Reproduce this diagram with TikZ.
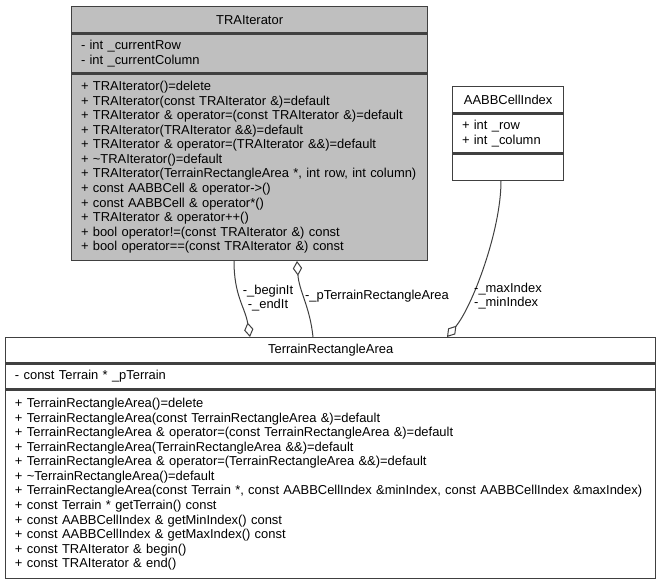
\documentclass[tikz,border=0pt]{standalone}
\usepackage{fontspec}
\setmainfont{Liberation Sans}
\usepackage{xcolor}
\usepackage{tikz}
\usetikzlibrary{positioning, arrows.meta}
\definecolor{umlgray}{HTML}{BFBFBF}
\definecolor{umledge}{HTML}{404040}

\begin{document}
\begin{tikzpicture}[x=0.75pt,y=-0.75pt,
    every node/.style={font=\fontsize{9.7}{10.9}\selectfont},
    umlbox/.style={draw=umledge,line width=1pt,inner xsep=7pt,inner ysep=2pt,align=left},
    assoc/.style={draw=umledge,line width=0.75pt,-{Diamond[open,length=11pt,width=7pt]}},
    lbl/.style={inner sep=0pt,align=center}]
        \useasboundingbox[fill=white] (0,0) rectangle (661,580);

        \node[umlbox,fill=umlgray,anchor=north west,minimum width=267pt,text width=253pt,minimum height=19.5pt,align=center] (itTitle) at (71,6) {TRAIterator};
        \node[umlbox,fill=umlgray,below=0pt of itTitle,minimum width=267pt,text width=253pt,minimum height=29.25pt] (itAttr)
          {- int \_currentRow\\- int \_currentColumn};
        \node[umlbox,fill=umlgray,below=0pt of itAttr,minimum width=267pt,text width=253pt,minimum height=139.5pt] (itOps)
          {+ TRAIterator()=delete\\
           + TRAIterator(const TRAIterator \&)=default\\
           + TRAIterator \& operator=(const TRAIterator \&)=default\\
           + TRAIterator(TRAIterator \&\&)=default\\
           + TRAIterator \& operator=(TRAIterator \&\&)=default\\
           + \textasciitilde TRAIterator()=default\\
           + TRAIterator(TerrainRectangleArea *, int row, int column)\\
           + const AABBCell \& operator->()\\
           + const AABBCell \& operator*()\\
           + TRAIterator \& operator++()\\
           + bool operator!=(const TRAIterator \&) const\\
           + bool operator==(const TRAIterator \&) const};

        \node[umlbox,anchor=north west,minimum width=83.25pt,text width=69.25pt,minimum height=19.5pt,align=center] (idxTitle) at (452,86) {AABBCellIndex};
        \node[umlbox,below=0pt of idxTitle,minimum width=83.25pt,text width=69.25pt,minimum height=29.25pt] (idxAttr)
          {+ int \_row\\+ int \_column};
        \node[umlbox,below=0pt of idxAttr,minimum width=83.25pt,text width=69.25pt,minimum height=19.5pt] (idxOps) {};

        \node[umlbox,anchor=north west,minimum width=487.5pt,text width=473.5pt,minimum height=18.75pt,align=center] (areaTitle) at (5,337) {TerrainRectangleArea};
        \node[umlbox,below=0pt of areaTitle,minimum width=487.5pt,text width=473.5pt,minimum height=18.75pt] (areaAttr)
          {- const Terrain * \_pTerrain};
        \node[umlbox,below=0pt of areaAttr,minimum width=487.5pt,text width=473.5pt,minimum height=141pt] (areaOps)
          {+ TerrainRectangleArea()=delete\\
           + TerrainRectangleArea(const TerrainRectangleArea \&)=default\\
           + TerrainRectangleArea \& operator=(const TerrainRectangleArea \&)=default\\
           + TerrainRectangleArea(TerrainRectangleArea \&\&)=default\\
           + TerrainRectangleArea \& operator=(TerrainRectangleArea \&\&)=default\\
           + \textasciitilde TerrainRectangleArea()=default\\
           + TerrainRectangleArea(const Terrain *, const AABBCellIndex \&minIndex, const AABBCellIndex \&maxIndex)\\
           + const Terrain * getTerrain() const\\
           + const AABBCellIndex \& getMinIndex() const\\
           + const AABBCellIndex \& getMaxIndex() const\\
           + const TRAIterator \& begin()\\
           + const TRAIterator \& end()};

        \draw[assoc] ([xshift=122.25pt]itOps.south west) .. controls +(0,35) and +(-5,-30) .. ([xshift=183.75pt]areaTitle.north west);
        \draw[assoc] ([xshift=231pt]areaTitle.north west) .. controls +(-3,-30) and +(2,30) .. ([xshift=169.5pt]itOps.south west);
        \draw[assoc] ([xshift=36.75pt]idxOps.south west) .. controls +(0,50) and +(25,-30) .. ([xshift=331.5pt]areaTitle.north west);

        \node[lbl] (beginEndLbl) at (268,298) {-\_beginIt\\-\_endIt};
        \node[lbl] (terrainAreaLbl) at (377,296) {-\_pTerrainRectangleArea};
        \node[lbl,align=left] (minMaxLbl) at (508,296) {-\_maxIndex\\-\_minIndex};
      \end{tikzpicture}
\end{document}
